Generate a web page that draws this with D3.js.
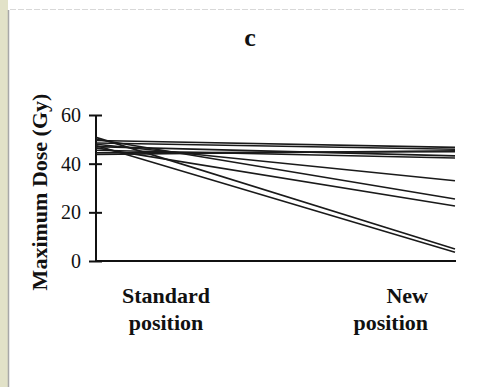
<!DOCTYPE html>
<html>
<head>
<meta charset="utf-8">
<script src="https://cdn.jsdelivr.net/npm/d3@7"></script>
<style>
  body { margin: 0; background: #fff; }
  svg { display: block; font-family: "Liberation Serif", "Times New Roman", serif; }
</style>
</head>
<body>
<div id="chart"></div>
<script>
// positions on the x axis
var positions = ["Standard position", "New position"];

// maximum dose per patient, standard vs new position
var standardDose = [49.5, 48.5, 44.5, 47.0, 45.5, 43.8, 48.0, 50.0, 46.5, 50.8, 47.5];
var newDose      = [46.7, 45.9, 44.9, 43.2, 42.3, 45.3, 33.0, 25.5, 22.6, 4.9, 3.6];

var yTicks = [0, 20, 40, 60];

var width = 491, height = 387;
var margin = { top: 115, left: 96, right: 36, bottom: 126 };

var svg = d3.select("#chart").append("svg")
    .attr("width", width)
    .attr("height", height);

// page frame (scanned slide look)
svg.append("rect").attr("x", 0).attr("y", 0).attr("width", 8).attr("height", height).attr("fill", "#e2e2c8");
svg.append("line").attr("x1", 8.5).attr("x2", 8.5).attr("y1", 10).attr("y2", height)
    .attr("stroke", "#a8a8a8").attr("stroke-width", 1.5);
svg.append("line").attr("x1", 10).attr("x2", 465).attr("y1", 9.5).attr("y2", 9.5)
    .attr("stroke", "#d8d8d8").attr("stroke-width", 1).attr("stroke-dasharray", "6,2");

var x = d3.scalePoint()
    .domain(positions)
    .range([margin.left, width - margin.right]);

var y = d3.scaleLinear()
    .domain([0, 60])
    .range([height - margin.bottom, margin.top]);

// title
svg.append("text")
    .attr("x", 250)
    .attr("y", 46)
    .attr("text-anchor", "middle")
    .attr("font-weight", "bold")
    .attr("font-size", 26)
    .attr("fill", "#111")
    .text("c");

// y axis
var yAxis = d3.axisLeft(y).tickValues(yTicks).tickSize(7).tickPadding(8);
var gy = svg.append("g")
    .attr("transform", "translate(" + margin.left + ",0)")
    .call(yAxis);
gy.select(".domain").attr("stroke", "#111").attr("stroke-width", 2);
gy.selectAll(".tick line").attr("stroke", "#111").attr("stroke-width", 2).attr("x2", 6).attr("x1", -7);
gy.selectAll(".tick text")
    .attr("font-family", "Liberation Serif, serif")
    .attr("font-size", 20)
    .attr("fill", "#111");
// drop the outer ticks of the domain path
gy.select(".domain").attr("d", "M0," + y(60) + "V" + y(0));

// x axis baseline
svg.append("line")
    .attr("x1", margin.left)
    .attr("x2", x(positions[1]) + 1)
    .attr("y1", y(0))
    .attr("y2", y(0))
    .attr("stroke", "#111")
    .attr("stroke-width", 2);

// y label
svg.append("text")
    .attr("transform", "translate(47," + 192 + ") rotate(-90)")
    .attr("text-anchor", "middle")
    .attr("font-weight", "bold")
    .attr("font-size", 22)
    .attr("fill", "#111")
    .text("Maximum Dose (Gy)");

// x category labels
var labelInfo = [
    { anchor: "middle", dx: 70 },
    { anchor: "end", dx: -27 }
];
positions.forEach(function (p, i) {
    var words = p.split(" ");
    var t = svg.append("text")
        .attr("text-anchor", labelInfo[i].anchor)
        .attr("font-weight", "bold")
        .attr("font-size", 22)
        .attr("fill", "#111");
    t.append("tspan").attr("x", x(p) + labelInfo[i].dx).attr("y", 303).text(words[0]);
    t.append("tspan").attr("x", x(p) + labelInfo[i].dx).attr("y", 330).text(words[1]);
});

// patient lines
var pairs = standardDose.map(function (d, i) { return [d, newDose[i]]; });
var line = d3.line()
    .x(function (d, i) { return x(positions[i]); })
    .y(function (d) { return y(d); });

svg.append("g").selectAll("path")
    .data(pairs)
    .enter()
    .append("path")
    .attr("d", line)
    .attr("fill", "none")
    .attr("stroke", "#1a1a1a")
    .attr("stroke-width", 1.6);
</script>
</body>
</html>
